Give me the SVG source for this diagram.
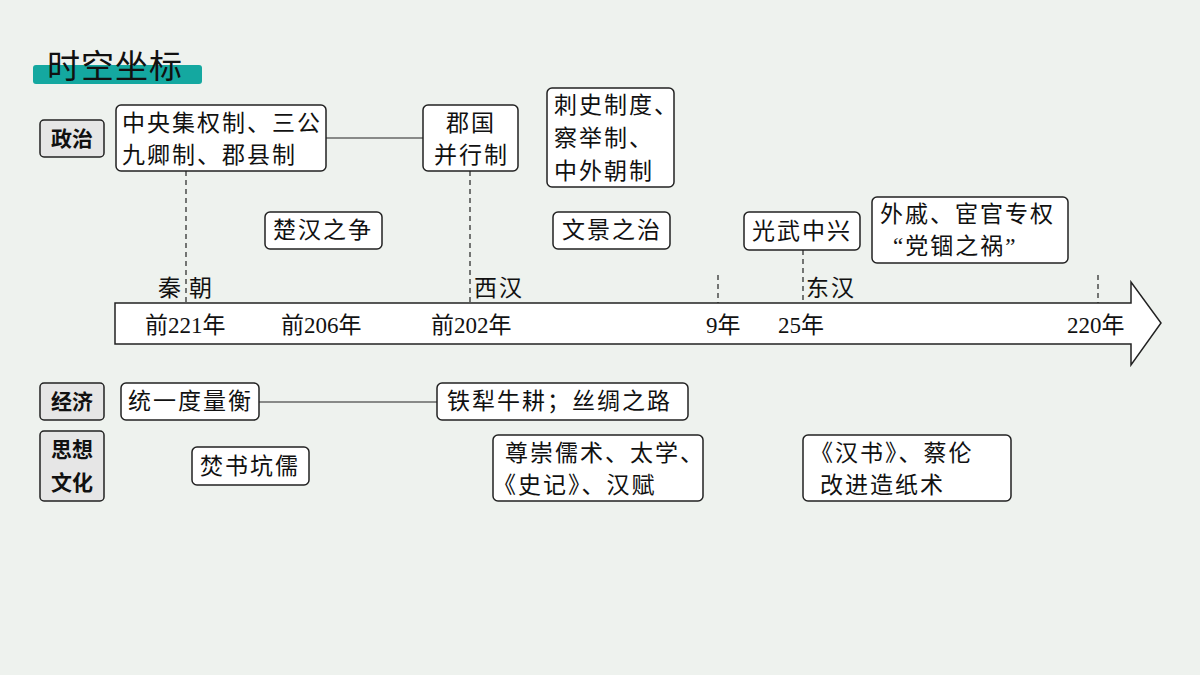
<svg xmlns="http://www.w3.org/2000/svg" width="1200" height="675" viewBox="0 0 1200 675">
<defs><style>
text{font-family:"Liberation Serif","Noto Sans CJK SC",serif;font-size:23px;letter-spacing:2px;fill:#111}
.b{fill:#fff;stroke:#222;stroke-width:1.5}
.lab{fill:#e6e6e6;stroke:#222;stroke-width:1.5}
.lt{font-family:"Noto Sans CJK SC",sans-serif;font-weight:bold;font-size:21px;letter-spacing:0}
.d{stroke:#222;stroke-width:1.2;stroke-dasharray:5,4}
.y{letter-spacing:0}
</style></defs>
<rect width="1200" height="675" fill="#eef2ee"/>
<g id="title"><rect x="33" y="65" width="169" height="19" rx="3" fill="#14a8a0"/><text x="47" y="78" style="font-family:'Noto Sans CJK SC',sans-serif;font-size:33px;letter-spacing:1px">时空坐标</text></g>
<g id="timeline"><path d="M115 303H1131V282L1161 323L1131 365V344H115Z" fill="#fff" stroke="#222" stroke-width="1.5"/>
<text class="y" x="145" y="333">前221年</text><text class="y" x="281" y="333">前206年</text><text class="y" x="431" y="333">前202年</text><text class="y" x="706" y="333">9年</text><text class="y" x="778" y="333">25年</text><text class="y" x="1067" y="333">220年</text>
<text x="158" y="296">秦</text><text x="189" y="296">朝</text><text x="474" y="296">西汉</text><text x="806" y="296">东汉</text></g>
<g id="connectors">
<line x1="326" y1="138" x2="423" y2="138" stroke="#222" stroke-width="1.2"/>
<line x1="259" y1="402" x2="437" y2="402" stroke="#222" stroke-width="1.2"/>
<line class="d" x1="186" y1="171" x2="186" y2="303"/>
<line class="d" x1="470" y1="171" x2="470" y2="303"/>
<line class="d" x1="718" y1="275" x2="718" y2="303"/>
<line class="d" x1="803" y1="250" x2="803" y2="303"/>
<line class="d" x1="1098" y1="275" x2="1098" y2="303"/>
</g>
<g id="l-zz"><rect class="lab" x="40" y="120" width="64" height="37" rx="4"/><text class="lt" x="51" y="146">政治</text></g>
<g id="l-jj"><rect class="lab" x="40" y="383" width="64" height="37" rx="4"/><text class="lt" x="51" y="409">经济</text></g>
<g id="l-sx"><rect class="lab" x="40" y="431" width="64" height="70" rx="4"/><text class="lt" x="51" y="457">思想</text><text class="lt" x="51" y="490">文化</text></g>
<g id="n1"><rect class="b" x="116" y="105" width="210" height="66" rx="5"/><text x="122" y="131">中央集权制、三公</text><text x="122" y="163">九卿制、郡县制</text></g>
<g id="n2"><rect class="b" x="423" y="105" width="95" height="66" rx="5"/><text x="446" y="131">郡国</text><text x="434" y="163">并行制</text></g>
<g id="n3"><rect class="b" x="547" y="88" width="127" height="99" rx="5"/><text x="554" y="113">刺史制度、</text><text x="554" y="146">察举制、</text><text x="554" y="179">中外朝制</text></g>
<g id="n4"><rect class="b" x="265" y="212" width="117" height="37" rx="5"/><text x="273" y="238">楚汉之争</text></g>
<g id="n5"><rect class="b" x="553" y="212" width="117" height="37" rx="5"/><text x="562" y="238">文景之治</text></g>
<g id="n6"><rect class="b" x="744" y="212" width="116" height="38" rx="5"/><text x="752" y="239">光武中兴</text></g>
<g id="n7"><rect class="b" x="872" y="197" width="196" height="66" rx="5"/><text x="880" y="222">外戚、宦官专权</text><text x="893" y="254">“党锢之祸”</text></g>
<g id="n8"><rect class="b" x="121" y="383" width="138" height="37" rx="5"/><text x="128" y="409">统一度量衡</text></g>
<g id="n9"><rect class="b" x="437" y="383" width="251" height="37" rx="5"/><text x="447" y="409">铁犁牛耕；丝绸之路</text></g>
<g id="n10"><rect class="b" x="192" y="447" width="117" height="38" rx="5"/><text x="200" y="474">焚书坑儒</text></g>
<g id="n11"><rect class="b" x="493" y="435" width="210" height="66" rx="5"/><text x="505" y="461">尊崇儒术、太学、</text><text x="493" y="493">《史记》、汉赋</text></g>
<g id="n12"><rect class="b" x="803" y="435" width="208" height="66" rx="5"/><text x="810" y="461">《汉书》、蔡伦</text><text x="820" y="493">改进造纸术</text></g>
</svg>
